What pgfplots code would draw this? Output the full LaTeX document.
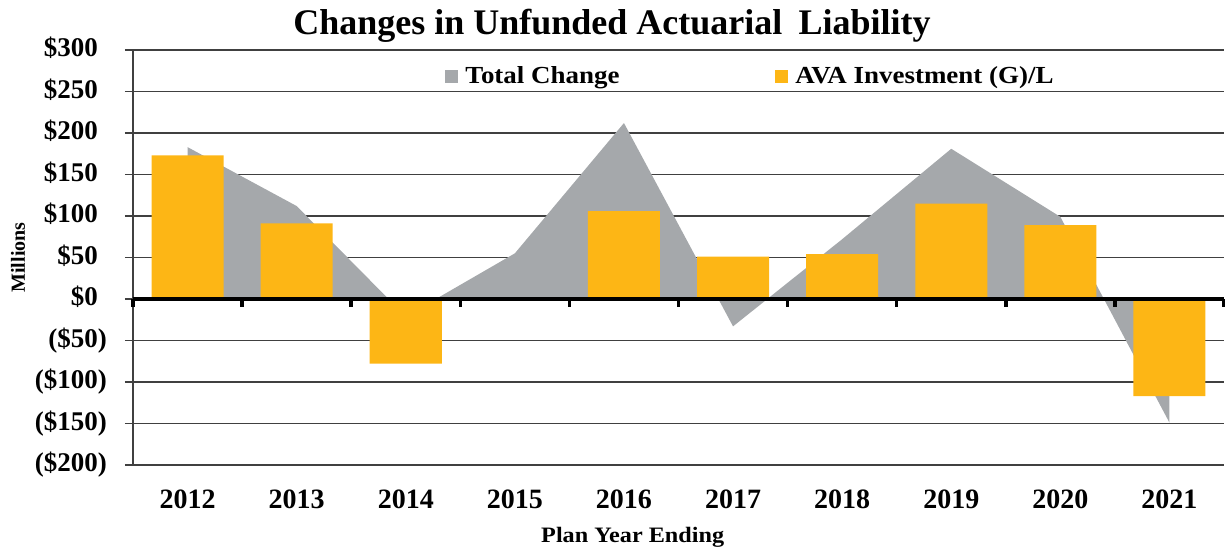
\documentclass[border=0pt]{standalone}
\usepackage{fontspec}
\setmainfont{Liberation Serif}
\newfontfamily\wideserif{Liberation Serif}[FakeStretch=1.1]
\usepackage{pgfplots}
\pgfplotsset{compat=1.18}
\definecolor{tcgray}{HTML}{A5A8AB}
\definecolor{avaorange}{HTML}{FDB615}
\definecolor{gridc}{HTML}{404040}
\begin{document}
\begin{tikzpicture}
\begin{axis}[
  scale only axis, width=1091pt, height=415pt,
  xmin=-0.5, xmax=9.5, ymin=-200, ymax=300,
  clip=false,
  axis x line=bottom, axis y line=left,
  axis line style={-, draw=gridc, line width=1.2pt},
  xtick={0,1,2,3,4,5,6,7,8,9},
  xticklabels={2012,2013,2014,2015,2016,2017,2018,2019,2020,2021},
  x tick style={draw=none},
  ytick={-200,-150,-100,-50,0,50,100,150,200,250,300},
  yticklabels={(\$200),(\$150),(\$100),(\$50),\$0\phantom{)},\$50\phantom{)},\$100\phantom{)},\$150\phantom{)},\$200\phantom{)},\$250\phantom{)},\$300\phantom{)}},
  y tick style={draw=gridc, line width=1.2pt},
  tick align=outside, major tick length=8pt,
  ymajorgrids, grid style={draw=gridc, line width=1.2pt},
  /pgf/number format/assume math mode=true,
  yticklabel style={font=\fontsize{27}{30}\bfseries\selectfont, anchor=east, inner sep=0pt, xshift=-18pt},
  xticklabel style={font=\fontsize{28}{30}\bfseries\selectfont, anchor=base, yshift=-36pt},
  title={Changes in Unfunded Actuarial\hspace{0.45em}Liability},
  title style={font=\fontsize{36}{40}\bfseries\selectfont, at={(rel axis cs:0.439,1)}, anchor=base, yshift=9pt},
  xlabel={Plan Year Ending},
  xlabel style={font=\wideserif\fontsize{22}{24}\bfseries\selectfont, at={(rel axis cs:0.458,0)}, anchor=base, yshift=-78pt},
  ylabel={Millions},
  ylabel style={font=\fontsize{20}{24}\bfseries\selectfont, at={([xshift=-108pt]rel axis cs:0,0.5)}, anchor=base},
  legend columns=2,
  legend style={draw=none, fill=none, at={(rel axis cs:0.566,0.937)}, anchor=center,
    font=\wideserif\fontsize{24.5}{28}\bfseries\selectfont,
    /tikz/every even column/.append style={column sep=154pt}},
]
\addplot[fill=tcgray, draw=none,
  legend image code/.code={\fill[tcgray] (0pt,-7pt) rectangle (13pt,6pt); \path (18pt,0pt);}]
  coordinates {(0,183) (1,112) (2,-21) (3,55) (4,212) (5,-33) (6,72) (7,181) (8,99) (9,-149)} \closedcycle;
\addlegendentry{Total Change}
\addplot[ybar, bar width=72pt, fill=avaorange, draw=none,
  legend image code/.code={\fill[avaorange] (0pt,-7pt) rectangle (13pt,6pt); \path (18pt,0pt);}]
  coordinates {(0,173) (1,91) (2,-78) (4,106) (5,51) (6,54) (7,115) (8,89) (9,-117)};
\addlegendentry{AVA Investment (G)/L}
\draw[black, line width=4.3pt] (axis cs:-0.5,0) -- (axis cs:9.5,0);
\pgfplotsinvokeforeach{-0.5,0.5,1.5,2.5,3.5,4.5,5.5,6.5,7.5,8.5,9.5}{
  \draw[black, line width=3.5pt] (axis cs:#1,0) -- ([yshift=-8pt]axis cs:#1,0);
}
\end{axis}
\pgfresetboundingbox
\path ([shift={(-133pt,-87pt)}]current axis.south west) rectangle ([shift={(1pt,50pt)}]current axis.north east);
\end{tikzpicture}
\end{document}
